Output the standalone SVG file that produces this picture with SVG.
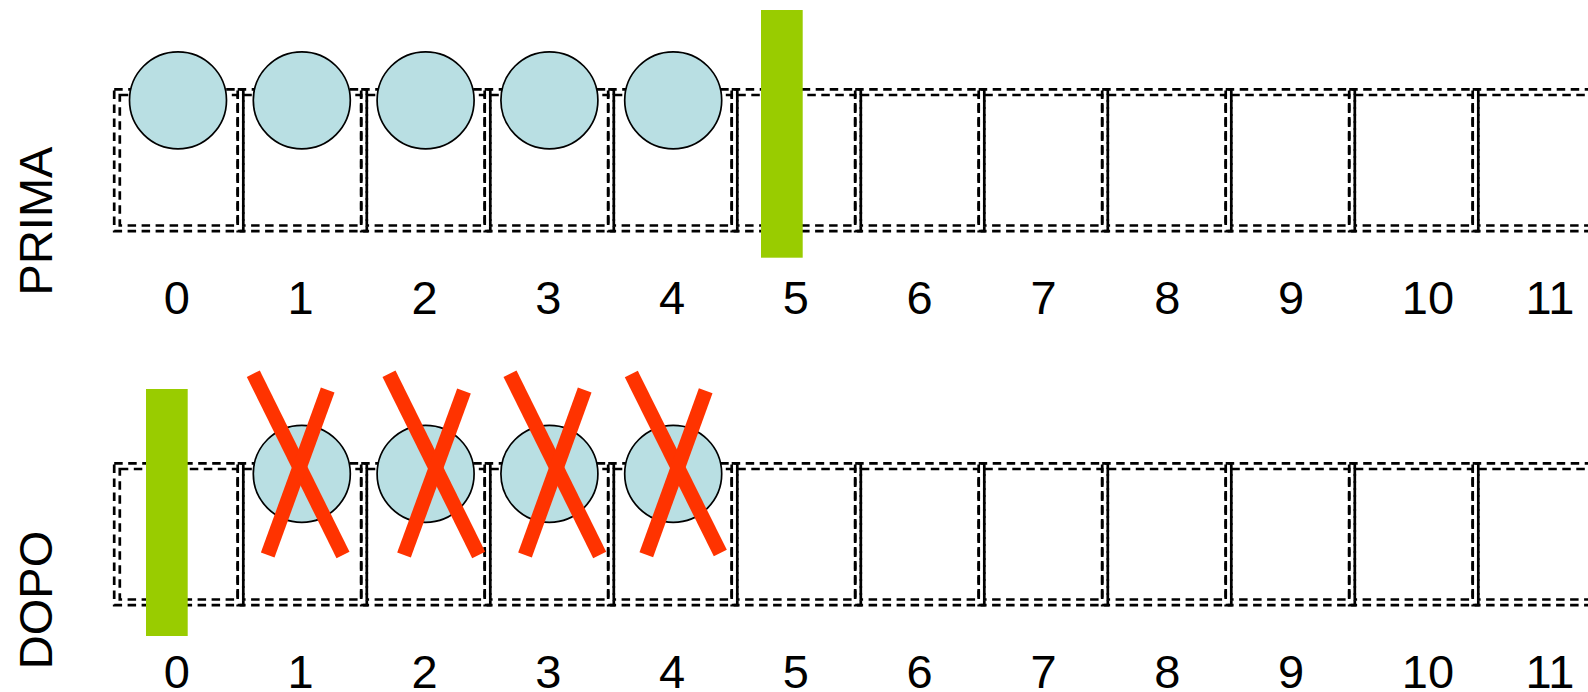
<svg xmlns="http://www.w3.org/2000/svg" xmlns:xlink="http://www.w3.org/1999/xlink" width="1588" height="692" viewBox="0 0 1588 692">
<style>
.ln{fill:none;stroke:#000;stroke-width:2.7;stroke-dasharray:8.5 5.5}
.ball{fill:#b9dfe3;stroke:#000;stroke-width:1.7}
.bar{fill:#99cc00}
.x{stroke:#ff3300;stroke-width:14.5;stroke-linecap:butt}
.lbl{font-family:"Liberation Sans",Arial,sans-serif;font-size:47px;fill:#000}
</style>
<defs>
<g id="box">
<rect class="ln" x="-2.8" y="-2.8" width="129.1" height="141.7"/>
<rect class="ln" x="2.8" y="2.8" width="117.9" height="130.5"/>
</g>
</defs>
<rect width="1588" height="692" fill="#fff"/>
<g id="row-prima-boxes">
<use xlink:href="#box" x="117" y="92.2"/>
<use xlink:href="#box" x="240.5" y="92.2"/>
<use xlink:href="#box" x="364" y="92.2"/>
<use xlink:href="#box" x="487.5" y="92.2"/>
<use xlink:href="#box" x="611" y="92.2"/>
<use xlink:href="#box" x="734.5" y="92.2"/>
<use xlink:href="#box" x="858" y="92.2"/>
<use xlink:href="#box" x="981.5" y="92.2"/>
<use xlink:href="#box" x="1105" y="92.2"/>
<use xlink:href="#box" x="1228.5" y="92.2"/>
<use xlink:href="#box" x="1352" y="92.2"/>
<use xlink:href="#box" x="1475.5" y="92.2"/>
</g>
<g id="row-dopo-boxes">
<use xlink:href="#box" x="117" y="466.2"/>
<use xlink:href="#box" x="240.5" y="466.2"/>
<use xlink:href="#box" x="364" y="466.2"/>
<use xlink:href="#box" x="487.5" y="466.2"/>
<use xlink:href="#box" x="611" y="466.2"/>
<use xlink:href="#box" x="734.5" y="466.2"/>
<use xlink:href="#box" x="858" y="466.2"/>
<use xlink:href="#box" x="981.5" y="466.2"/>
<use xlink:href="#box" x="1105" y="466.2"/>
<use xlink:href="#box" x="1228.5" y="466.2"/>
<use xlink:href="#box" x="1352" y="466.2"/>
<use xlink:href="#box" x="1475.5" y="466.2"/>
</g>
<g id="prima-balls">
<circle class="ball" cx="178" cy="100.3" r="48.5"/>
<circle class="ball" cx="301.8" cy="100.3" r="48.5"/>
<circle class="ball" cx="425.6" cy="100.3" r="48.5"/>
<circle class="ball" cx="549.4" cy="100.3" r="48.5"/>
<circle class="ball" cx="673.2" cy="100.3" r="48.5"/>
</g>
<g id="dopo-balls">
<circle class="ball" cx="301.8" cy="473.8" r="48.5"/>
<circle class="ball" cx="425.6" cy="473.8" r="48.5"/>
<circle class="ball" cx="549.4" cy="473.8" r="48.5"/>
<circle class="ball" cx="673.2" cy="473.8" r="48.5"/>
</g>
<g id="prima-marker"><rect class="bar" x="761" y="10" width="41.7" height="247.7"/></g>
<g id="dopo-marker"><rect class="bar" x="146" y="389" width="41.7" height="247"/></g>
<g id="crosses">
<line class="x" x1="253.3" y1="373.7" x2="343" y2="555"/>
<line class="x" x1="327.7" y1="390" x2="267.7" y2="555"/>
<line class="x" x1="389" y1="373.7" x2="478.7" y2="555"/>
<line class="x" x1="464" y1="391" x2="404" y2="555"/>
<line class="x" x1="510" y1="373.7" x2="599.7" y2="555"/>
<line class="x" x1="584.7" y1="390" x2="525" y2="555"/>
<line class="x" x1="631.3" y1="374" x2="720.3" y2="553"/>
<line class="x" x1="705.7" y1="390.7" x2="646.3" y2="554.7"/>
</g>
<g id="side-labels">
<text class="lbl" text-anchor="middle" transform="translate(52,221) rotate(-90)">PRIMA</text>
<text class="lbl" text-anchor="middle" transform="translate(52,600) rotate(-90)">DOPO</text>
</g>
<g id="prima-index">
<text class="lbl" x="163.8" y="314">0</text>
<text class="lbl" x="287.6" y="314">1</text>
<text class="lbl" x="411.4" y="314">2</text>
<text class="lbl" x="535.2" y="314">3</text>
<text class="lbl" x="659" y="314">4</text>
<text class="lbl" x="782.8" y="314">5</text>
<text class="lbl" x="906.6" y="314">6</text>
<text class="lbl" x="1030.4" y="314">7</text>
<text class="lbl" x="1154.2" y="314">8</text>
<text class="lbl" x="1278" y="314">9</text>
<text class="lbl" x="1401.8" y="314">10</text>
<text class="lbl" x="1525.6" y="314">11</text>
</g>
<g id="dopo-index">
<text class="lbl" x="163.8" y="688">0</text>
<text class="lbl" x="287.6" y="688">1</text>
<text class="lbl" x="411.4" y="688">2</text>
<text class="lbl" x="535.2" y="688">3</text>
<text class="lbl" x="659" y="688">4</text>
<text class="lbl" x="782.8" y="688">5</text>
<text class="lbl" x="906.6" y="688">6</text>
<text class="lbl" x="1030.4" y="688">7</text>
<text class="lbl" x="1154.2" y="688">8</text>
<text class="lbl" x="1278" y="688">9</text>
<text class="lbl" x="1401.8" y="688">10</text>
<text class="lbl" x="1525.6" y="688">11</text>
</g>
</svg>
